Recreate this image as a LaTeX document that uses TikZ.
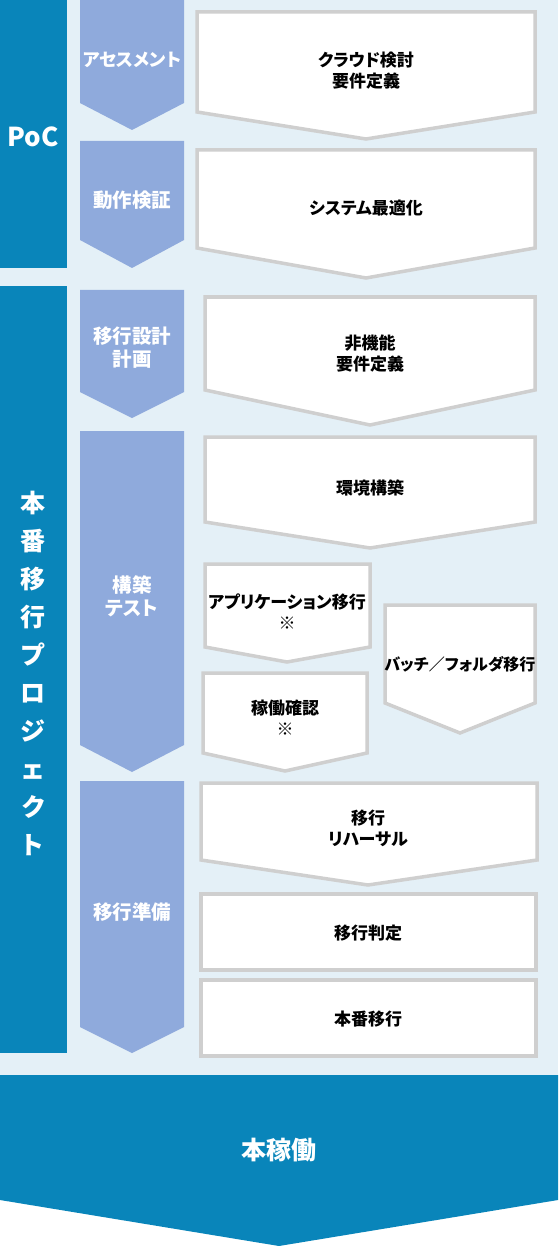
\documentclass[tikz,border=0pt]{standalone}
\usepackage{fontspec}
\setmainfont{Noto Sans CJK JP}[RawFeature=+palt]
\usepackage{tikz}
\definecolor{phaseblue}{HTML}{0985BA}
\definecolor{stageblue}{HTML}{8FAADC}
\definecolor{panelblue}{HTML}{E4F0F7}
\definecolor{framegray}{HTML}{CFCFCF}

\begin{document}
\begin{tikzpicture}[x=1pt,y=-1pt,
  every node/.style={align=center,inner sep=0pt},
  phasetext/.style={text=white,font=\bfseries\fontsize{25}{38}\selectfont},
  stagetext/.style={text=white,font=\bfseries\fontsize{19.5}{23}\selectfont},
  tasktext/.style={text=black,font=\bfseries\fontsize{17}{21}\selectfont},
  task/.style={fill=white,draw=framegray,line width=3.5pt,line join=miter}
  ]
\useasboundingbox (0,0) rectangle (558,1246);

%% Background panel
\fill[panelblue] (0,0) rectangle (558,1075);

%% Phases
\fill[phaseblue] (0,0) rectangle (67,268);
\fill[phaseblue] (0,286) rectangle (67,1053);
\fill[phaseblue] (0,1075) -- (558,1075) -- (558,1200) -- (279,1246) -- (0,1200) -- cycle;
\node[phasetext,font=\bfseries\fontsize{26}{30}\selectfont] (poc) at (33,137) {PoC};
\node[phasetext] (project) at (33,673) {本\\番\\移\\行\\プ\\ロ\\ジ\\ェ\\ク\\ト};
\node[phasetext,font=\bfseries\fontsize{25}{30}\selectfont] (golive) at (279,1150) {本稼働};

%% Stages
\begin{scope}[fill=stageblue]
  \fill (80,0) -- (184,0) -- (184,103) -- (132,130) -- (80,103) -- cycle;
  \fill (80,141) -- (184,141) -- (184,240) -- (132,268) -- (80,240) -- cycle;
  \fill (80,290) -- (184,290) -- (184,392) -- (132,418) -- (80,392) -- cycle;
  \fill (80,431) -- (184,431) -- (184,745) -- (132,772) -- (80,745) -- cycle;
  \fill (80,781) -- (184,781) -- (184,1027) -- (132,1053) -- (80,1027) -- cycle;
\end{scope}
\node[stagetext,font=\bfseries\fontsize{18}{23}\selectfont] (assess) at (132,60) {アセスメント};
\node[stagetext] (verify) at (132,200) {動作検証};
\node[stagetext] (plan) at (132,348) {移行設計\\計画};
\node[stagetext] (build) at (132,596) {構築\\テスト};
\node[stagetext] (prepare) at (132,912) {移行準備};

%% Tasks
\draw[task] (197,12) -- (535,12) -- (535,112) -- (366,139) -- (197,112) -- cycle;
\draw[task] (197,150) -- (535,150) -- (535,248) -- (366,278) -- (197,248) -- cycle;
\draw[task] (205,297) -- (535,297) -- (535,390) -- (370,425) -- (205,390) -- cycle;
\draw[task] (205,437) -- (535,437) -- (535,522) -- (370,548) -- (205,522) -- cycle;
\draw[task] (205,564) -- (370,564) -- (370,647) -- (287,662) -- (205,647) -- cycle;
\draw[task] (385,605) -- (535,605) -- (535,703) -- (460,733) -- (385,703) -- cycle;
\draw[task] (203,673) -- (367,673) -- (367,753) -- (285,771) -- (203,753) -- cycle;
\draw[task] (201,783) -- (537,783) -- (537,860) -- (368,885) -- (201,860) -- cycle;
\draw[task] (201,894) rectangle (536,970);
\draw[task] (201,980) rectangle (536,1056);

\node[tasktext] (cloud) at (366,71) {クラウド検討\\要件定義};
\node[tasktext] (tuning) at (366,208) {システム最適化};
\node[tasktext] (nonfunc) at (370,354) {非機能\\要件定義};
\node[tasktext] (infra) at (370,488) {環境構築};
\node[tasktext] (appmove) at (287,612) {アプリケーション移行\\※};
\node[tasktext,font=\bfseries\fontsize{16}{20}\selectfont] (batchmove) at (460,664) {バッチ／フォルダ移行};
\node[tasktext] (opcheck) at (285,718) {稼働確認\\※};
\node[tasktext] (rehearsal) at (368,828) {移行\\リハーサル};
\node[tasktext] (judge) at (368,933) {移行判定};
\node[tasktext] (cutover) at (368,1019) {本番移行};
\end{tikzpicture}
\end{document}
